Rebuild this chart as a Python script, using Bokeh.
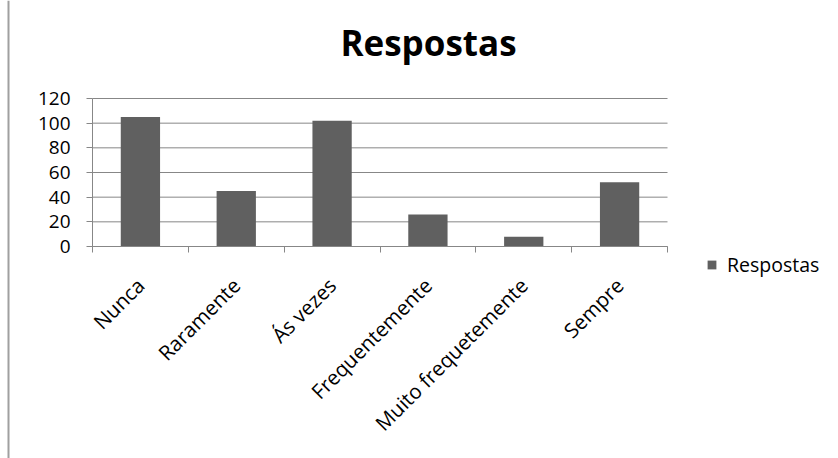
from bokeh.plotting import figure
from bokeh.models import (Range1d, FixedTicker, Legend, LegendItem, Label,
                          Span, ColumnDataSource, LinearAxis)
from bokeh.embed import file_html
from bokeh.resources import INLINE
import math

# ---- data ----
categories = ["Nunca", "Raramente", "Ás vezes", "Frequentemente",
              "Muito frequetemente", "Sempre"]
respostas = [105, 45, 102, 26, 8, 52]
y_ticks = [0, 20, 40, 60, 80, 100, 120]
series_name = "Respostas"
chart_title = "Respostas"

FONT = "Open Sans"
BAR = "#606060"
GRID = "#878787"

W, H = 838, 458
# plot area in canvas pixels
PL, PR, PT, PB = 92, 667, 98, 246
n = len(categories)
ymax = y_ticks[-1]
sx = (PR - PL) / n          # px per category
sy = (PB - PT) / ymax       # px per unit

x_range = Range1d(-PL / sx, n + (W - PR) / sx)
y_range = Range1d(-(H - PB) / sy, ymax + PT / sy)

x_pos = [i + 0.5 for i in range(n)]
src = ColumnDataSource(dict(x=x_pos, top=respostas, cat=categories))

p = figure(width=W, height=H, output_backend="svg", toolbar_location=None,
           x_range=x_range, y_range=y_range,
           x_axis_type=None, y_axis_type=None,
           min_border=0)
p.outline_line_color = None
p.background_fill_color = "white"
p.border_fill_color = "white"
p.grid.visible = False

# horizontal gridlines limited to the plot area
p.segment(x0=[0] * len(y_ticks), x1=[n] * len(y_ticks), y0=y_ticks, y1=y_ticks,
          line_color=GRID, line_width=1)

r = p.vbar(x="x", top="top", width=0.41, source=src,
           fill_color=BAR, line_color=None)

# y axis
yax = LinearAxis(fixed_location=0, bounds=(0, ymax))
yax.ticker = FixedTicker(ticks=y_ticks)
yax.axis_line_color = GRID
yax.major_tick_line_color = GRID
yax.major_tick_out = 6
yax.major_tick_in = 0
yax.minor_tick_line_color = None
yax.major_label_standoff = 16
yax.major_label_text_font = FONT
yax.major_label_text_font_size = "19px"
yax.major_label_text_color = "black"
p.add_layout(yax, "left")

# x axis
xax = LinearAxis(fixed_location=0, bounds=(0, n))
xax.ticker = FixedTicker(ticks=x_pos, minor_ticks=list(range(n + 1)))
xax.major_label_overrides = {x: c for x, c in zip(x_pos, categories)}
xax.axis_line_color = GRID
xax.major_tick_line_color = None
xax.major_tick_out = 0
xax.major_tick_in = 0
xax.minor_tick_line_color = GRID
xax.minor_tick_out = 6
xax.minor_tick_in = 0
xax.major_label_orientation = math.pi / 4
xax.major_label_standoff = 29
xax.major_label_text_font = FONT
xax.major_label_text_font_size = "20.5px"
xax.major_label_text_color = "black"
p.add_layout(xax, "below")

# title
p.add_layout(Label(x=PL + 336, y=H - 42, x_units="screen", y_units="screen",
                   text=chart_title, text_align="center",
                   text_baseline="alphabetic", text_font=FONT,
                   text_font_size="35px", text_font_style="bold",
                   text_color="black"))

# legend
legend = Legend(items=[LegendItem(label=series_name, renderers=[r])],
                location=(706, H - 278), orientation="vertical",
                border_line_color=None, background_fill_alpha=0,
                padding=0, margin=0, spacing=0,
                glyph_width=11, glyph_height=11, label_standoff=10,
                label_height=20, label_text_font=FONT,
                label_text_font_size="19.5px", label_text_color="black")
p.add_layout(legend)

# left page border line
p.add_layout(Span(location=8, location_units="screen", dimension="height",
                  line_color="#a0a0a0", line_width=2))

open("out.html", "w").write(file_html(p, INLINE))
